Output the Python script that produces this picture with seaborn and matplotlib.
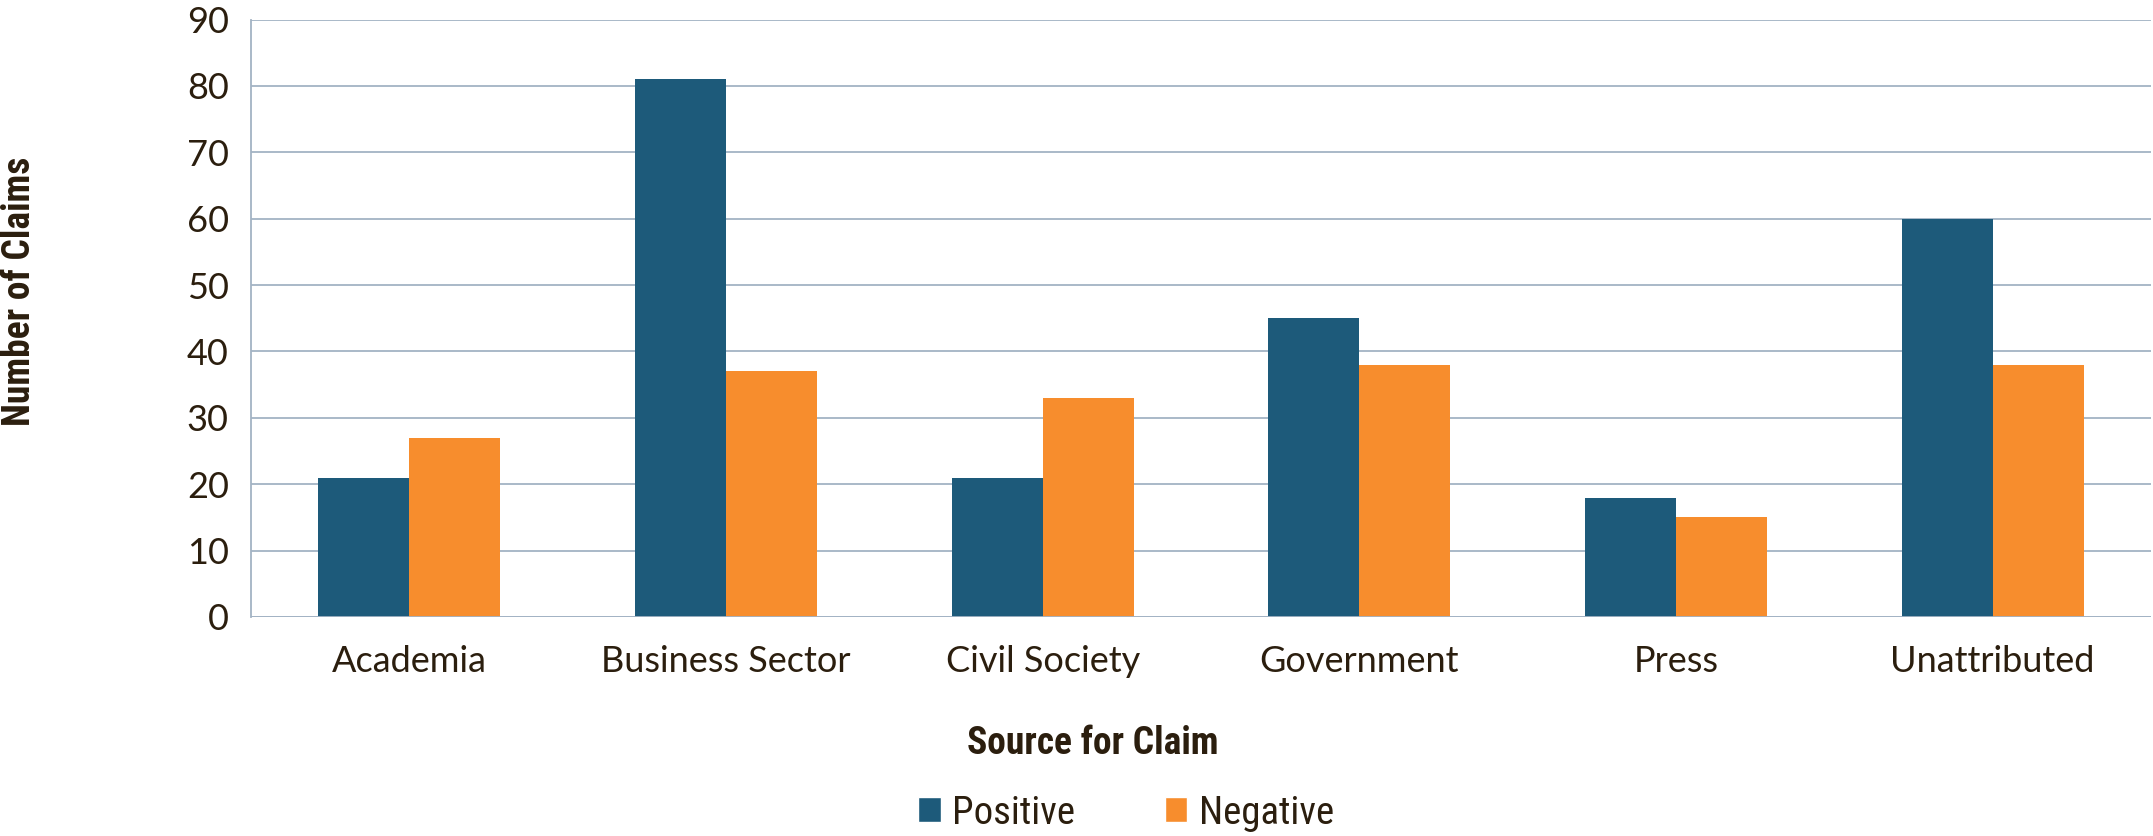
import pandas as pd
import seaborn as sns
import matplotlib.pyplot as plt
from matplotlib.patches import Patch

# data
categories = ['Academia', 'Business Sector', 'Civil Society', 'Government', 'Press', 'Unattributed']
positive = [21, 81, 21, 45, 18, 60]
negative = [27, 37, 33, 38, 15, 38]
y_ticks = [0, 10, 20, 30, 40, 50, 60, 70, 80, 90]

blue = '#1D5A7A'
orange = '#F78D2D'
grid_col = '#A3B3C4'
text_col = '#2B1E0E'
narrow = ['Liberation Sans Narrow', 'Roboto Condensed', 'Roboto']

df = pd.DataFrame({
    'Source': categories * 2,
    'Claims': positive + negative,
    'Type': ['Positive'] * len(categories) + ['Negative'] * len(categories),
})

sns.set_style('white')
plt.rcParams['font.family'] = ['Lato', 'DejaVu Sans']

fig = plt.figure(figsize=(21.53, 8.36), dpi=100)
ax = fig.add_axes([251 / 2153, 1 - 617 / 836, 1900 / 2153, (617 - 19.5) / 836])

sns.barplot(data=df, x='Source', y='Claims', hue='Type', order=categories,
            hue_order=['Positive', 'Negative'], palette=[blue, orange],
            width=0.575, linewidth=0, saturation=1, legend=False, ax=ax, zorder=3)

ax.set_xlim(-0.5, len(categories) - 0.5)
ax.set_ylim(0, 90)
ax.set_yticks(y_ticks)
ax.yaxis.grid(True, color=grid_col, linewidth=1.3, zorder=0)
ax.set_axisbelow(True)

for side in ['top', 'right', 'bottom']:
    ax.spines[side].set_visible(False)
ax.spines['left'].set_color(grid_col)
ax.spines['left'].set_linewidth(1.3)

ax.tick_params(axis='y', direction='out', length=8, width=1.3, color=grid_col,
               labelsize=26, labelcolor=text_col, pad=8)
ax.tick_params(axis='x', which='major', length=0, labelsize=26, labelcolor=text_col, pad=20)
ax.set_xticks([i - 0.5 for i in range(len(categories) + 1)], minor=True)
ax.tick_params(axis='x', which='minor', direction='out', length=9, width=1.3, color=grid_col)
ax.axhline(0, color=grid_col, linewidth=1.3, zorder=4)

ax.set_xlabel('')
ax.set_ylabel('')
fig.text(1093 / 2153, 1 - 743 / 836, 'Source for Claim', ha='center', va='center',
         fontsize=27, fontweight='bold', color=text_col, family=narrow)
fig.text(20 / 2153, 1 - 291 / 836, 'Number of Claims', ha='center', va='center', rotation=90,
         fontsize=27, fontweight='bold', color=text_col, family=narrow)

handles = [Patch(facecolor=blue, label='Positive'), Patch(facecolor=orange, label='Negative')]
fig.legend(handles=handles, loc='center', bbox_to_anchor=(1126 / 2153, 1 - 813 / 836), ncol=2,
           frameon=False, handlelength=0.58, handleheight=0.6, handletextpad=0.3, columnspacing=2.3,
           prop={'family': narrow, 'size': 28}, labelcolor=text_col)

fig.savefig('out.png', dpi=100)
